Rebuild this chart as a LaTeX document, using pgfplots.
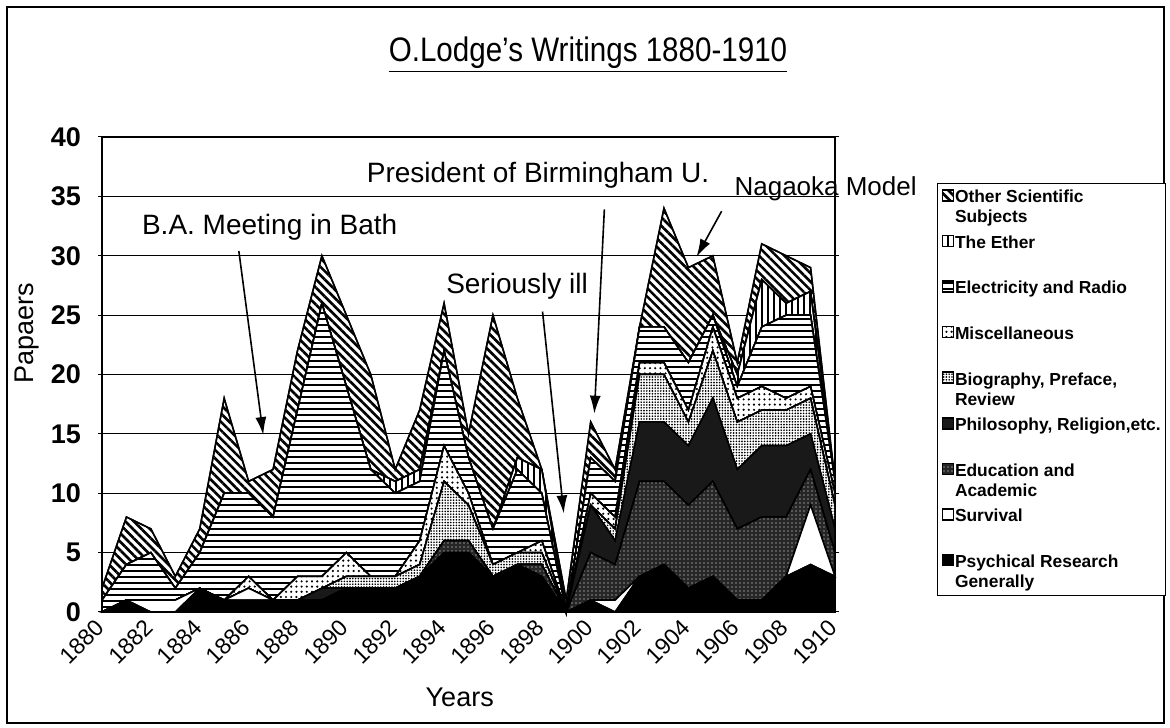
\documentclass[border=0pt]{standalone}
\usepackage{fontspec}
\setmainfont{Liberation Sans}
\usepackage{graphicx}
\usepackage{pgfplots}
\usepackage{pgfplotstable}
\pgfplotsset{compat=1.18}
\usetikzlibrary{patterns,patterns.meta,arrows.meta}

\pgfplotstableread{
year P S E Ph B M El Et O
1880 0 0 0 0 0 0 1 0 1
1881 1 0 0 0 0 0 3 0 4
1882 0 1 0 0 0 0 4 0 2
1883 0 1 0 0 0 0 1 0 1
1884 2 0 0 0 0 0 3 0 2
1885 1 0 0 0 0 0 9 0 8
1886 1 1 0 0 0 1 7 0 1
1887 1 0 0 0 0 0 7 0 4
1888 1 0 0 0 0 2 14 0 5
1889 1 0 0 1 0 1 23 0 4
1890 2 0 0 0 1 2 14 0 6
1891 2 0 0 0 1 0 9 0 8
1892 2 0 0 0 1 0 7 1 1
1893 3 0 0 0 1 2 5 1 5
1894 5 0 1 0 5 3 8 0 4
1895 5 0 1 0 3 1 3 0 2
1896 3 0 0 0 1 0 3 0 18
1897 4 0 0 0 1 0 7 1 5
1898 3 0 1 0 1 1 4 2 0
1899 0 0 0 0 0 0 0 0 1
1900 1 0 4 4 0 1 3 0 3
1901 0 1 3 2 1 1 3 0 1
1902 3 0 8 5 4 1 3 0 0
1903 4 0 7 5 4 1 3 0 10
1904 2 0 7 5 2 1 4 0 8
1905 3 0 8 7 4 2 1 0 5
1906 1 0 6 5 4 2 1 1 1
1907 1 0 7 6 3 2 5 4 3
1908 3 0 5 6 3 1 7 1 4
1909 4 5 3 3 3 1 6 2 2
1910 3 0 2 2 2 1 1 0 0
}\lodgedata

\begin{document}
\begin{tikzpicture}
\path[use as bounding box] (0,0) rectangle (585pt,363.5pt);
\draw[line width=0.6pt] (3.5pt,2pt) rectangle (582pt,360pt);
\node at (294pt,336pt) {\scalebox{0.87}[1]{\fontsize{17}{20}\selectfont\underline{O.Lodge's Writings 1880-1910}}};
\begin{axis}[
  at={(51pt,57.5pt)}, anchor=south west,
  scale only axis, width=366.5pt, height=237.5pt,
  xmin=1880, xmax=1910, ymin=0, ymax=40,
  xtick={1880,1882,...,1910}, ytick={0,5,...,40},
  /pgf/number format/.cd, 1000 sep={}, assume math mode=true, /pgfplots/.cd,
  stack plots=y,
  clip=false,
  ymajorgrids, grid style={black, line width=0.5pt},
  axis line style={line width=0.7pt},
  xtick style={draw=none},
  ytick style={black, line width=0.5pt},
  tick align=outside, major tick length=2pt,
  yticklabel style={font=\bfseries\fontsize{13.5}{13.5}\selectfont, xshift=-5pt},
  xticklabel style={font=\fontsize{11.5}{11.5}\selectfont, rotate=45, anchor=east, yshift=-2pt},
  ylabel={Papaers}, xlabel={Years},
  ylabel style={font=\fontsize{13.5}{15}\selectfont, at={(axis description cs:-0.102,0.587)}, anchor=center},
  xlabel style={font=\fontsize{13.5}{15}\selectfont, at={(axis description cs:0.488,-0.179)}, anchor=center},
  legend image code/.code={\draw[#1] (0pt,3.2pt) rectangle (5.5pt,8.7pt);},
  reverse legend,
  legend style={at={(1.139,0.903)}, anchor=north west, draw=black, line width=0.6pt,
    font=\bfseries\fontsize{8.7}{10}\selectfont, row sep=3.3pt, inner xsep=2pt, inner ysep=2pt,
    cells={anchor=west}, nodes={align=left, inner sep=0.5pt}},
  every axis plot/.append style={draw=black, line width=0.75pt, mark=none},
]
\addplot[fill=black] table[x=year,y=P]{\lodgedata} \closedcycle;
\addlegendentry{Psychical Research\strut\\Generally\strut}
\addplot[fill=white] table[x=year,y=S]{\lodgedata} \closedcycle;
\addlegendentry{Survival\strut\\\strut}
\addplot[fill=black!85, postaction={pattern={Dots[distance=2pt,radius=0.3pt]}, pattern color=white}] table[x=year,y=E]{\lodgedata} \closedcycle;
\addlegendentry{Education and\strut\\Academic\strut}
\addplot[fill=black!90] table[x=year,y=Ph]{\lodgedata} \closedcycle;
\addlegendentry{Philosophy, Religion,etc.\strut\\\strut}
\addplot[fill=white, postaction={pattern={Dots[distance=1.4pt,radius=0.47pt]}}] table[x=year,y=B]{\lodgedata} \closedcycle;
\addlegendentry{Biography, Preface,\strut\\Review\strut}
\addplot[fill=white, postaction={pattern={Dots[distance=2.6pt,radius=0.6pt]}}] table[x=year,y=M]{\lodgedata} \closedcycle;
\addlegendentry{Miscellaneous\strut\\\strut}
\addplot[fill=white, postaction={pattern={Lines[angle=0,distance=3pt,line width=1.4pt]}}] table[x=year,y=El]{\lodgedata} \closedcycle;
\addlegendentry{Electricity and Radio\strut\\\strut}
\addplot[fill=white, postaction={pattern={Lines[angle=90,distance=3pt,line width=1.4pt]}}] table[x=year,y=Et]{\lodgedata} \closedcycle;
\addlegendentry{The Ether\strut\\\strut}
\addplot[fill=white, postaction={pattern={Lines[angle=-45,distance=3pt,line width=1.3pt]}}] table[x=year,y=O]{\lodgedata} \closedcycle;
\addlegendentry{Other Scientific\strut\\Subjects\strut}

\node[anchor=west, font=\fontsize{14}{15}\selectfont] at (axis cs:1881.35,32.4) {B.A. Meeting in Bath};
\draw[line width=0.8pt, -{Latex[length=9pt,width=5.5pt]}] (axis cs:1885.6,30.4) -- (axis cs:1886.6,14.9);
\node[anchor=west, font=\fontsize{14}{15}\selectfont] at (axis cs:1890.55,36.8) {President of Birmingham U.};
\draw[line width=0.8pt, -{Latex[length=9pt,width=5.5pt]}] (axis cs:1900.56,33.9) -- (axis cs:1900.15,16.7);
\node[anchor=west, font=\fontsize{14}{15}\selectfont] at (axis cs:1893.8,27.4) {Seriously ill};
\draw[line width=0.8pt, -{Latex[length=9pt,width=5.5pt]}] (axis cs:1898.03,25.3) -- (axis cs:1898.9,8.3);
\node[anchor=west, font=\fontsize{13}{15}\selectfont] at (axis cs:1905.6,35.6) {Nagaoka Model};
\draw[line width=0.8pt, -{Latex[length=9pt,width=5.5pt]}] (axis cs:1905.36,33.75) -- (axis cs:1904.33,29.9);
\end{axis}
\end{tikzpicture}
\end{document}
